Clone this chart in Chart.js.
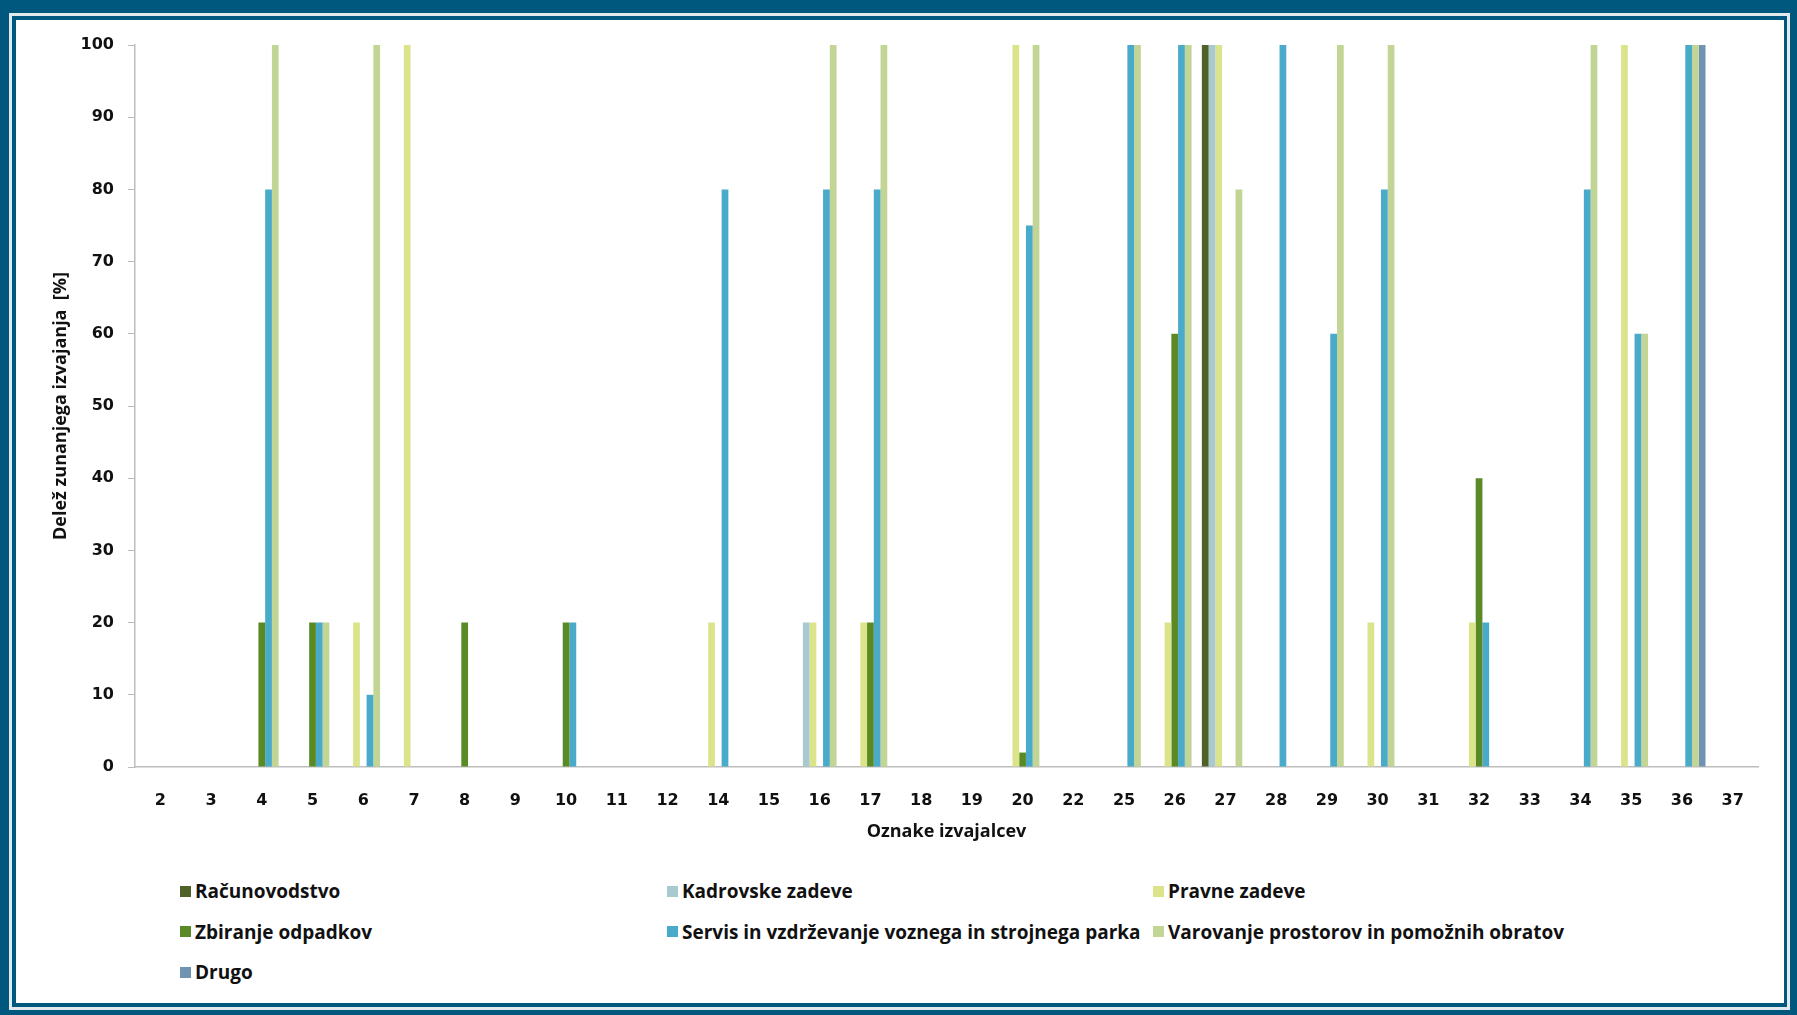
<!DOCTYPE html>
<html>
<head>
<meta charset="utf-8">
<title>Delež zunanjega izvajanja</title>
<script src="https://cdn.jsdelivr.net/npm/chart.js@4.4.1/dist/chart.umd.min.js"></script>
<style>
    html, body { margin: 0; padding: 0; }
    body { width: 1797px; height: 1015px; background: #00587f; position: relative; overflow: hidden; }
    #moldura { position: absolute; left: 9px; top: 13px; right: 7px; bottom: 5px; background: #e2eaee; }
    #borda { position: absolute; left: 12px; top: 16px; right: 10px; bottom: 8px; background: #00587f; }
    #interior { position: absolute; left: 16px; top: 20px; width: 1768px; height: 983px; background: #fff; }
    #caixa { position: absolute; left: 0; top: 0; width: 1768px; height: 830px; }
    #legenda { position: absolute; left: 164px; top: 851px; display: grid; grid-template-columns: 487px 486px 489px; grid-auto-rows: 40.5px; }
    #legenda .item { display: flex; align-items: center; font: bold 19px "Open Sans", Lato, sans-serif; color: #111; white-space: nowrap; }
    #legenda .cor { width: 11px; height: 11px; margin-right: 4px; flex: none; }
</style>
</head>
<body>
<div id="moldura"></div>
<div id="borda"></div>
<div id="interior">
    <div id="caixa"><canvas id="graficoIzvajanje"></canvas></div>
    <div id="legenda"></div>
</div>

<script>
// oznake izvajalcev (x os)
var izvajalci = ["2","3","4","5","6","7","8","9","10","11","12","14","15","16","17","18","19","20","22","25","26","27","28","29","30","31","32","33","34","35","36","37"];

//                     2  3  4   5   6   7    8   9  10  11 12 14  15 16   17   18 19 20   22 25   26   27   28   29   30   31 32  33 34   35   36   37
var racunovodstvo  = [ 0, 0, 0,  0,  0,  0,   0,  0, 0,  0, 0, 0,  0, 0,   0,   0, 0, 0,   0, 0,   0,   100, 0,   0,   0,   0, 0,  0, 0,   0,   0,   0];
var kadrovske      = [ 0, 0, 0,  0,  0,  0,   0,  0, 0,  0, 0, 0,  0, 20,  0,   0, 0, 0,   0, 0,   0,   100, 0,   0,   0,   0, 0,  0, 0,   0,   0,   0];
var pravne         = [ 0, 0, 0,  0,  20, 100, 0,  0, 0,  0, 0, 20, 0, 20,  20,  0, 0, 100, 0, 0,   20,  100, 0,   0,   20,  0, 20, 0, 0,   100, 0,   0];
var zbiranje       = [ 0, 0, 20, 20, 0,  0,   20, 0, 20, 0, 0, 0,  0, 0,   20,  0, 0, 2,   0, 0,   60,  0,   0,   0,   0,   0, 40, 0, 0,   0,   0,   0];
var servis         = [ 0, 0, 80, 20, 10, 0,   0,  0, 20, 0, 0, 80, 0, 80,  80,  0, 0, 75,  0, 100, 100, 0,   100, 60,  80,  0, 20, 0, 80,  60,  100, 0];
var varovanje      = [ 0, 0, 100,20, 100,0,   0,  0, 0,  0, 0, 0,  0, 100, 100, 0, 0, 100, 0, 100, 100, 80,  0,   100, 100, 0, 0,  0, 100, 60,  100, 0];
var drugo          = [ 0, 0, 0,  0,  0,  0,   0,  0, 0,  0, 0, 0,  0, 0,   0,   0, 0, 0,   0, 0,   0,   0,   0,   0,   0,   0, 0,  0, 0,   0,   100, 0];

var imenaSerij = ["Računovodstvo", "Kadrovske zadeve", "Pravne zadeve", "Zbiranje odpadkov",
                  "Servis in vzdrževanje voznega in strojnega parka", "Varovanje prostorov in pomožnih obratov", "Drugo"];
var barve = ["#4f6228", "#a8cacf", "#dce48b", "#5a8a26", "#4aaac9", "#c2d594", "#6f93b1"];

var Izvajanje = Izvajanje || {};

Izvajanje.Graf = (function(){

    function Graf(){
        this.ctx = document.getElementById('graficoIzvajanje').getContext('2d');
    }

    Graf.prototype.iniciar = function(){
        var serije = [racunovodstvo, kadrovske, pravne, zbiranje, servis, varovanje, drugo];
        var datasets = serije.map(function(vrednosti, i){
            return {
                label: imenaSerij[i],
                backgroundColor: barve[i],
                borderWidth: 0,
                categoryPercentage: 0.93,
                barPercentage: 1.0,
                data: vrednosti
            };
        });

        var pisavaOs = { family: "'DejaVu Sans', sans-serif", weight: 'bold', size: 16 };
        var pisavaNaslov = { family: "'Open Sans', Lato, sans-serif", weight: 'bold', size: 18 };

        this.graf = new Chart(this.ctx, {
            type: 'bar',
            data: { labels: izvajalci, datasets: datasets },
            options: {
                responsive: true,
                maintainAspectRatio: false,
                animation: false,
                layout: { padding: { left: 0, top: 25, right: 26, bottom: 0 } },
                plugins: {
                    legend: { display: false },
                    tooltip: { enabled: false }
                },
                scales: {
                    x: {
                        grid: { display: false },
                        border: { color: '#bdbdbd', width: 1.5 },
                        ticks: { color: '#111', font: pisavaOs, padding: 16, maxRotation: 0, autoSkip: false },
                        title: { display: true, text: 'Oznake izvajalcev', color: '#111', font: pisavaNaslov, padding: { top: 0, bottom: 7 } },
                        afterFit: function(s){ s.height = 83; }
                    },
                    y: {
                        min: 0,
                        max: 100,
                        grid: { drawOnChartArea: false, drawTicks: true, tickLength: 7, color: '#bdbdbd' },
                        border: { color: '#bdbdbd', width: 1.5 },
                        ticks: { stepSize: 10, color: '#111', font: pisavaOs, padding: 14 },
                        title: { display: true, text: 'Delež zunanjega izvajanja  [%]', color: '#111', font: pisavaNaslov, padding: { top: 34, bottom: 0 } },
                        afterFit: function(s){ s.width = 119; }
                    }
                }
            }
        });

        narisiLegendo(this.graf);
    };

    function narisiLegendo(graf){
        var el = document.getElementById('legenda');
        graf.data.datasets.forEach(function(ds){
            var item = document.createElement('div');
            item.className = 'item';
            var kv = document.createElement('span');
            kv.className = 'cor';
            kv.style.background = ds.backgroundColor;
            var t = document.createElement('span');
            t.textContent = ds.label;
            item.appendChild(kv);
            item.appendChild(t);
            el.appendChild(item);
        });
    }

    return Graf;
}());

window.addEventListener('load', function(){
    var graf = new Izvajanje.Graf();
    graf.iniciar();
});
</script>
</body>
</html>
